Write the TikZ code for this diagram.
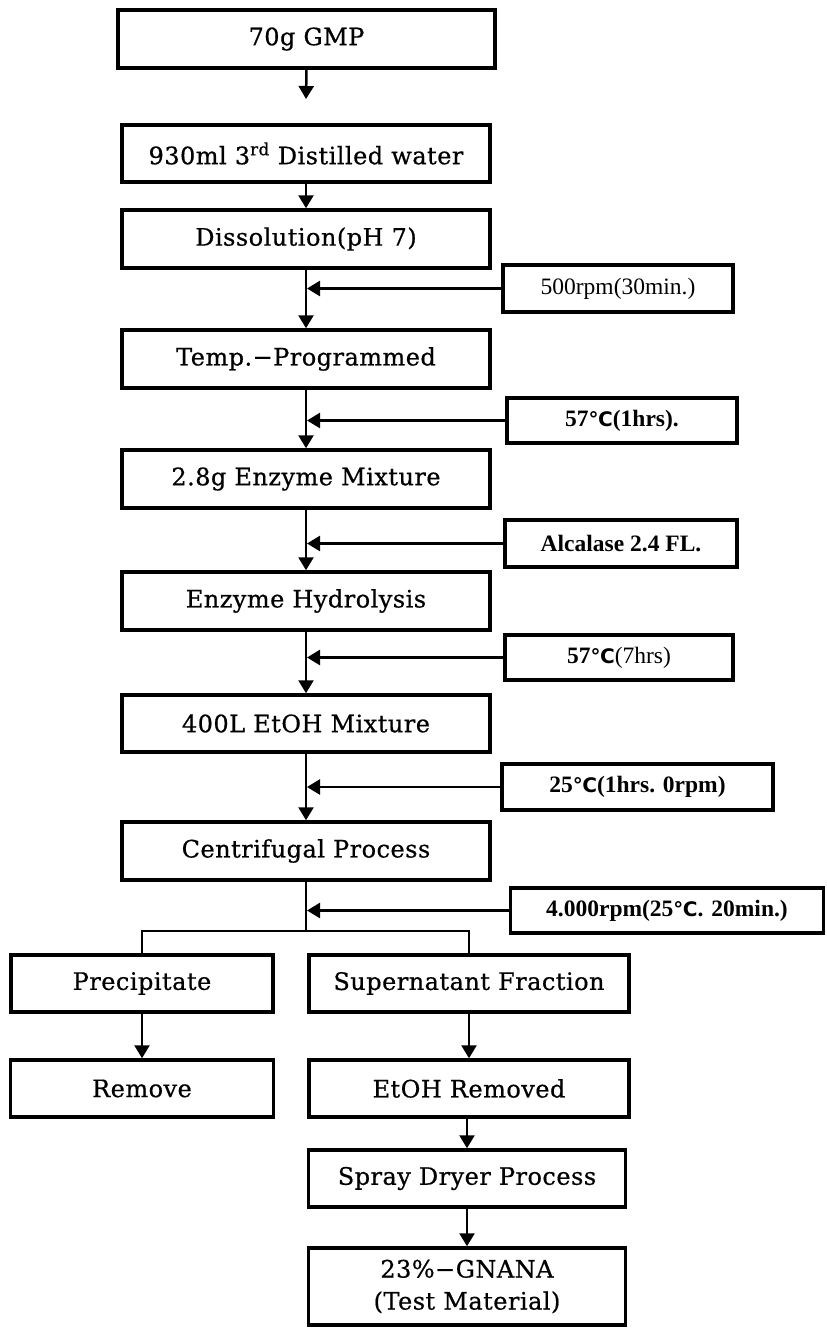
\documentclass[tikz,border=0pt]{standalone}
\usepackage{fontspec}
\setmainfont{DejaVu Serif}[FakeBold=0.6, LetterSpace=2]
\newfontfamily\labf{Liberation Serif}
\newfontfamily\symf{DejaVu Sans}
\usetikzlibrary{arrows.meta}
\newcommand{\degC}{{\symf\fontsize{20}{24}\selectfont ℃}}
\begin{document}
\begin{tikzpicture}[x=1pt,y=-1pt,
  box/.style={draw, line width=3.5pt, minimum height=58pt, inner sep=0pt,
    font=\fontsize{24}{32}\selectfont, align=center},
  side/.style={draw, line width=3.5pt, minimum height=46pt, inner sep=0pt,
    font=\labf\fontsize{23.5}{26}\selectfont},
  conn/.style={line width=2.5pt},
  arr/.style={line width=2.5pt, -{Triangle[length=13pt,width=15pt]}}]
\useasboundingbox (0,0) rectangle (827,1341);
% main column
\node[box, minimum width=377pt] (gmp) at (306.5,39) {70g GMP};
\node[box, minimum width=368pt, minimum height=57pt] (wat) at (306,153.5) {930ml 3\textsuperscript{rd} Distilled water};
\node[box, minimum width=368pt] (dis) at (306,239) {Dissolution(pH 7)};
\node[box, minimum width=368pt] (tmp) at (306,359) {Temp.−Programmed};
\node[box, minimum width=368pt] (enz) at (306,479) {2.8g Enzyme Mixture};
\node[box, minimum width=368pt] (hyd) at (306,601) {Enzyme Hydrolysis};
\node[box, minimum width=368pt, minimum height=57pt] (eth) at (306,723.5) {400L EtOH Mixture};
\node[box, minimum width=368pt] (cen) at (306,851) {Centrifugal Process};
% side conditions
\node[side, minimum width=230pt, minimum height=47pt] (s1) at (618,288.5) {500rpm(30min.)};
\node[side, minimum width=230pt, minimum height=45pt] (s2) at (622,420.5) {\bfseries 57\degC(1hrs).};
\node[side, minimum width=232pt, minimum height=47pt] (s3) at (621,543.5) {\bfseries Alcalase 2.4 FL.};
\node[side, minimum width=228pt, minimum height=45pt] (s4) at (619,657.5) {\textbf{57\degC}(7hrs)};
\node[side, minimum width=271pt] (s5) at (637.5,787) {\bfseries 25\degC(1hrs. 0rpm)};
\node[side, minimum width=313pt, minimum height=45pt] (s6) at (667,910.5) {\bfseries 4.000rpm(25\degC. 20min.)};
% bottom part
\node[box, minimum width=262pt, minimum height=57pt] (pre) at (142,983.5) {Precipitate};
\node[box, minimum width=263pt, minimum height=57pt] (rem) at (142,1088.5) {Remove};
\node[box, minimum width=320pt, minimum height=57pt] (sup) at (469,983.5) {Supernatant Fraction};
\node[box, minimum width=320pt, minimum height=57pt] (eor) at (469,1088.5) {EtOH Removed};
\node[box, minimum width=317pt, minimum height=57pt] (spr) at (467,1178.5) {Spray Dryer Process};
\node[box, minimum width=317pt, minimum height=77pt] (gna) at (467,1286.5) {23\%−GNANA\\(Test Material)};
% connectors
\coordinate (c1) at (306,99);
\draw[arr] (gmp.south) -- (c1);
\draw[arr] (wat.south) -- (dis.north);
\draw[arr] (dis.south) -- (tmp.north);
\draw[arr] (tmp.south) -- (enz.north);
\draw[arr] (enz.south) -- (hyd.north);
\draw[arr] (hyd.south) -- (eth.north);
\draw[arr] (eth.south) -- (cen.north);
\draw[arr, shorten >=1pt] (s1.west) -- (s1.west -| dis.south);
\draw[arr, shorten >=1pt] (s2.west) -- (s2.west -| tmp.south);
\draw[arr, shorten >=1pt] (s3.west) -- (s3.west -| enz.south);
\draw[arr, shorten >=1pt] (s4.west) -- (s4.west -| hyd.south);
\draw[arr, shorten >=1pt] (s5.west) -- (s5.west -| eth.south);
\draw[arr, shorten >=1pt] (s6.west) -- (s6.west -| cen.south);
\coordinate (sp) at (306,931);
\draw[conn] (cen.south) -- (sp);
\draw[conn] (pre.north) -- (pre.north |- sp) -- (sup.north |- sp) -- (sup.north);
\draw[arr] (pre.south) -- (rem.north);
\draw[arr] (sup.south) -- (eor.north);
\draw[arr] ([xshift=-2pt]eor.south) -- (spr.north);
\draw[arr] (spr.south) -- (gna.north);
\end{tikzpicture}
\end{document}
